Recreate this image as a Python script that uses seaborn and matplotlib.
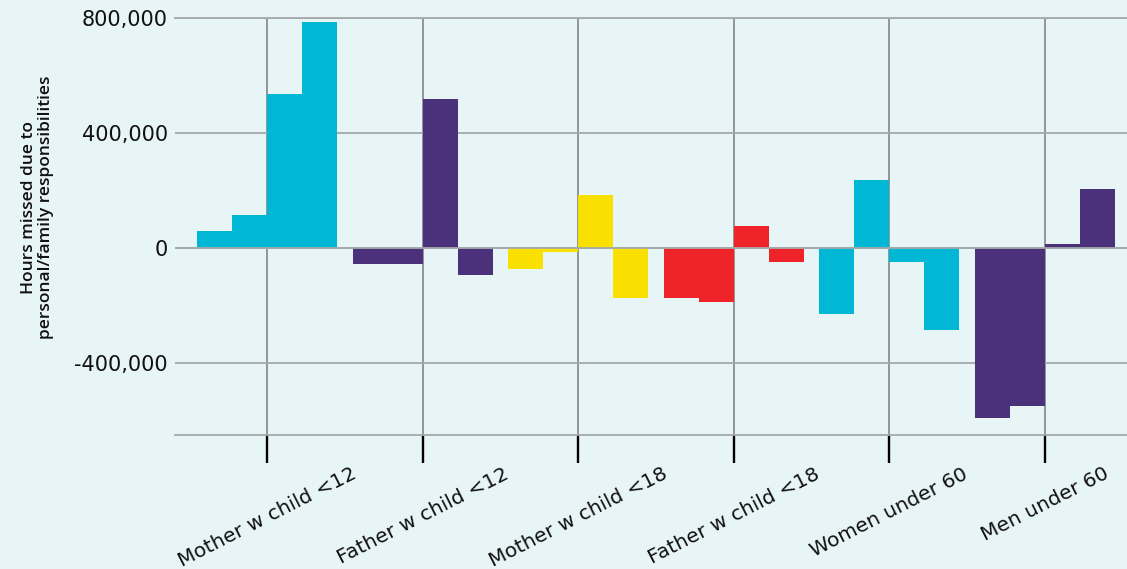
import matplotlib
matplotlib.use("Agg")
import matplotlib.pyplot as plt
import seaborn as sns
import pandas as pd
from matplotlib.ticker import FuncFormatter

# Categories and the four consecutive periods shown for each
groups = ["Mother w child <12", "Father w child <12", "Mother w child <18",
          "Father w child <18", "Women under 60", "Men under 60"]
periods = ["P1", "P2", "P3", "P4"]

# Change in hours missed due to personal/family responsibilities
mother_u12 = [60000, 115000, 535000, 785000]
father_u12 = [-55000, -55000, 517000, -95000]
mother_u18 = [-74000, -14000, 186000, -172000]
father_u18 = [-175000, -186000, 77000, -49000]
women_u60 = [-228000, 238000, -49000, -284000]
men_u60 = [-592000, -550000, 14000, 207000]

series = [mother_u12, father_u12, mother_u18, father_u18, women_u60, men_u60]
group_colors = ["#00b8d6", "#4b3179", "#f9e000", "#ee2428", "#00b8d6", "#4b3179"]

yticks = [-400000, 0, 400000, 800000]

df = pd.DataFrame(
    [(g, p, v) for g, vals in zip(groups, series) for p, v in zip(periods, vals)],
    columns=["group", "period", "hours"],
)

BG = "#e8f5f6"
HGRID = "#a4a9ab"
VGRID = "#8b8d8e"

sns.set_style("white")
plt.rcParams["font.family"] = ["DejaVu Sans"]

fig = plt.figure(figsize=(11.27, 5.69), dpi=100, facecolor=BG)
ax = fig.add_axes([0.1553, 0.2355, 0.8447, 0.7329])
ax.set_facecolor(BG)

sns.barplot(data=df, x="group", y="hours", hue="period", order=groups,
            hue_order=periods, width=0.9, dodge=True, saturation=1,
            palette=["#888888"] * 4, legend=False, linewidth=0, ax=ax)

# colour each bar by its category
for cont in ax.containers:
    for i, bar in enumerate(cont):
        bar.set_facecolor(group_colors[i])
        bar.set_edgecolor("none")
        bar.set_zorder(2)

ax.set_xlim(-0.591, 5.527)
ax.set_ylim(-650000, 800000)
ax.set_yticks(yticks)
ax.yaxis.set_major_formatter(FuncFormatter(lambda v, _: f"{int(v):,}"))

ax.set_axisbelow(True)
ax.grid(axis="y", color=HGRID, lw=1.3)
ax.grid(axis="x", color=VGRID, lw=1.3)
ax.axhline(0, color=HGRID, lw=1.3, zorder=3)

for s in ["left", "right"]:
    ax.spines[s].set_visible(False)
for s in ["top", "bottom"]:
    ax.spines[s].set_color(HGRID)
    ax.spines[s].set_linewidth(1.3)

ax.tick_params(axis="y", left=False, length=0, pad=5, labelsize=15,
               labelcolor="#111111")
ax.tick_params(axis="x", bottom=True, length=20, width=1.7, color="black",
               pad=1, labelsize=14.5, labelcolor="#111111", direction="out")
for lab in ax.get_xticklabels():
    lab.set_rotation(27)
    lab.set_ha("center")

ax.set_xlabel("")
ax.set_ylabel("Hours missed due to\npersonal/family responsibilities",
              fontsize=12.5, fontweight="semibold", family="Open Sans",
              linespacing=1.1, color="#111111")
ax.yaxis.set_label_coords(-0.127, 0.545)

fig.savefig("out.png", dpi=100, facecolor=BG)
